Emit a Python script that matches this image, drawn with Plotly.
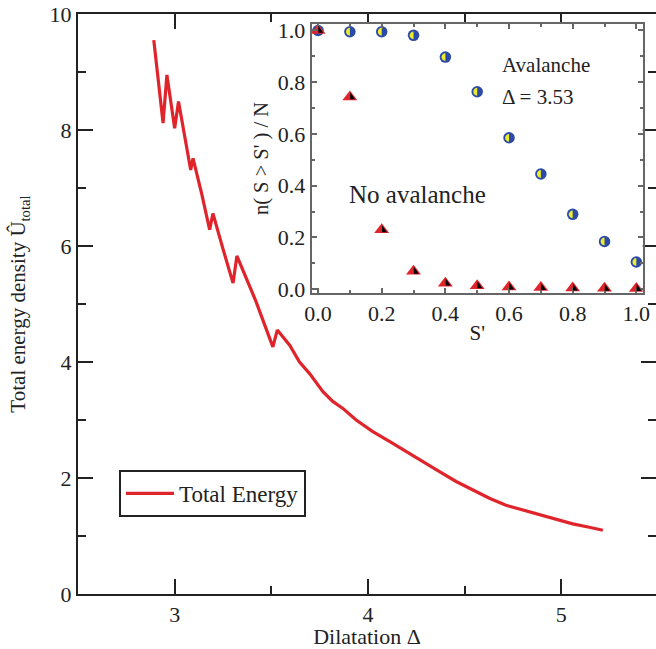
import plotly.graph_objects as go

# ---------------- data ----------------
delta = [2.892, 2.905, 2.94, 2.96, 3.0, 3.02, 3.05, 3.083, 3.095, 3.14, 3.181,
         3.198, 3.25, 3.302, 3.322, 3.42, 3.508, 3.531, 3.595, 3.646, 3.698,
         3.767, 3.818, 3.870, 3.939, 4.025, 4.111, 4.198, 4.283, 4.370, 4.456,
         4.542, 4.628, 4.714, 4.800, 4.887, 4.973, 5.059, 5.145, 5.215]
energy = [9.55, 9.15, 8.12, 8.95, 8.03, 8.49, 7.95, 7.31, 7.51, 6.9, 6.28,
          6.56, 5.95, 5.36, 5.83, 5.05, 4.26, 4.55, 4.29, 4.00, 3.80,
          3.49, 3.32, 3.20, 3.00, 2.80, 2.63, 2.45, 2.28, 2.11, 1.94,
          1.79, 1.65, 1.53, 1.45, 1.36, 1.28, 1.21, 1.15, 1.10]

s_prime = [0.0, 0.1, 0.2, 0.3, 0.4, 0.5, 0.6, 0.7, 0.8, 0.9, 1.0]
avalanche = [1.0, 0.995, 0.995, 0.981, 0.897, 0.763, 0.585, 0.445, 0.289, 0.184, 0.105]
no_avalanche = [1.0, 0.743, 0.229, 0.069, 0.023, 0.013, 0.008, 0.006, 0.004, 0.003, 0.002]

main_xticks = [3, 4, 5]
main_xminor = [3.5, 4.5]
main_yticks = [0, 2, 4, 6, 8, 10]
main_yminor = [1, 3, 5, 7, 9]
inset_ticks = [0.0, 0.2, 0.4, 0.6, 0.8, 1.0]
inset_ticktext = ["0.0", "0.2", "0.4", "0.6", "0.8", "1.0"]
inset_minor = [0.1, 0.3, 0.5, 0.7, 0.9]

# ---------------- style ----------------
FONT = "Liberation Serif"
INK = "#222222"
RED = "#e0242b"
BLUE = "#2c4aa8"
YELLOW = "#ecec2a"
INSET_LINE = "#666666"

fig = go.Figure()

fig.add_trace(go.Scatter(
    x=delta, y=energy, mode="lines", name="Total Energy",
    line=dict(color=RED, width=3.2), xaxis="x", yaxis="y", showlegend=True))

fig.add_trace(go.Scatter(
    x=s_prime, y=avalanche, mode="markers", showlegend=False,
    marker=dict(symbol="circle", size=11.5, color=BLUE, line=dict(width=0)),
    xaxis="x2", yaxis="y2"))

fig.add_trace(go.Scatter(
    x=s_prime, y=no_avalanche, mode="markers", showlegend=False,
    marker=dict(symbol="triangle-up", size=13, color=RED, line=dict(width=0)),
    xaxis="x2", yaxis="y2"))

# half-fill decorations anchored at each data point (pixel-sized paths)
k = 0.5523
r = 3.9
half_circle = (f"M 0,{r} L 0,{-r} C {-k*r:.2f},{-r} {-r},{-k*r:.2f} {-r},0 "
               f"C {-r},{k*r:.2f} {-k*r:.2f},{r} 0,{r} Z")
half_tri = "M 0.3,4.6 L 0.3,-2.4 L 5.2,-2.4 Z"
shapes = []
for sx, av, na in zip(s_prime, avalanche, no_avalanche):
    if abs(av - na) > 0.02:
        shapes.append(dict(type="path", xref="x2", yref="y2", xsizemode="pixel",
                           ysizemode="pixel", xanchor=sx, yanchor=av,
                           path=half_circle, fillcolor=YELLOW, line=dict(width=0)))
for sx, na in zip(s_prime, no_avalanche):
    shapes.append(dict(type="path", xref="x2", yref="y2", xsizemode="pixel",
                       ysizemode="pixel", xanchor=sx, yanchor=na,
                       path=half_tri, fillcolor="#000000", line=dict(width=0)))

axis_common = dict(showgrid=False, zeroline=False, ticks="inside", mirror="allticks",
                   showline=True, automargin=False, ticklabeloverflow="allow")

fig.update_layout(
    width=656, height=649,
    margin=dict(l=78, r=0, t=14, b=55, autoexpand=False),
    paper_bgcolor="white", plot_bgcolor="white",
    font=dict(family=FONT, color=INK, size=22),
    xaxis=dict(**axis_common, domain=[0, 1], anchor="y", range=[2.5, 5.49],
               tickvals=main_xticks, ticklen=15, tickwidth=2, tickcolor=INK,
               linecolor=INK, linewidth=2,
               minor=dict(tickvals=main_xminor, ticklen=8, tickwidth=2, tickcolor=INK, ticks="inside"),
               tickfont=dict(size=22, family=FONT, color=INK),
               title=dict(text="Dilatation Δ", font=dict(size=22, family=FONT, color=INK), standoff=3)),
    yaxis=dict(**axis_common, domain=[0, 1], anchor="x", range=[0, 10],
               tickvals=main_yticks, ticklen=15, tickwidth=2, tickcolor=INK,
               linecolor=INK, linewidth=2,
               minor=dict(tickvals=main_yminor, ticklen=8, tickwidth=2, tickcolor=INK, ticks="inside"),
               tickfont=dict(size=22, family=FONT, color=INK),
               title=dict(text="Total energy density Û<sub>total</sub>",
                          font=dict(size=21, family=FONT, color=INK), standoff=18)),
    xaxis2=dict(**axis_common, domain=[0.4043, 0.977], anchor="y2", range=[-0.02, 1.02],
                tickvals=inset_ticks, ticktext=inset_ticktext, ticklen=5, tickwidth=1.5,
                tickcolor=INSET_LINE, linecolor=INSET_LINE, linewidth=2,
                minor=dict(tickvals=inset_minor, ticklen=3, tickwidth=1.5,
                           tickcolor=INSET_LINE, ticks="inside"),
                tickfont=dict(size=22, family=FONT, color=INK),
                title=dict(text="S'", font=dict(size=21, family=FONT, color=INK), standoff=0)),
    yaxis2=dict(**axis_common, domain=[0.519, 0.9828], anchor="x2", range=[-0.015, 1.025],
                tickvals=inset_ticks, ticktext=inset_ticktext, ticklen=5, tickwidth=1.5,
                tickcolor=INSET_LINE, linecolor=INSET_LINE, linewidth=2,
                minor=dict(tickvals=inset_minor, ticklen=3, tickwidth=1.5,
                           tickcolor=INSET_LINE, ticks="inside"),
                tickfont=dict(size=22, family=FONT, color=INK),
                title=dict(text="n( S > S' ) / N", font=dict(size=20.5, family=FONT, color=INK), standoff=4)),
    legend=dict(x=0.0709, y=0.2138, xanchor="left", yanchor="top",
                bordercolor=INK, borderwidth=2, bgcolor="white", itemwidth=48,
                font=dict(size=23, family=FONT, color=INK)),
    shapes=shapes,
    annotations=[
        dict(text="Avalanche", x=0.571, y=0.866, xref="x2", yref="y2", showarrow=False,
             xanchor="left", yanchor="middle", font=dict(size=21, family=FONT, color=INK)),
        dict(text="Δ = 3.53", x=0.571, y=0.742, xref="x2", yref="y2", showarrow=False,
             xanchor="left", yanchor="middle", font=dict(size=21, family=FONT, color=INK)),
        dict(text="No avalanche", x=0.091, y=0.364, xref="x2", yref="y2", showarrow=False,
             xanchor="left", yanchor="middle", font=dict(size=25, family=FONT, color=INK)),
    ],
)

# remove the default 8px page margin so the figure fills the 656x649 window
fig.write_html("out.html", config={"displayModeBar": False},
               post_script="document.body.style.margin='0';")
